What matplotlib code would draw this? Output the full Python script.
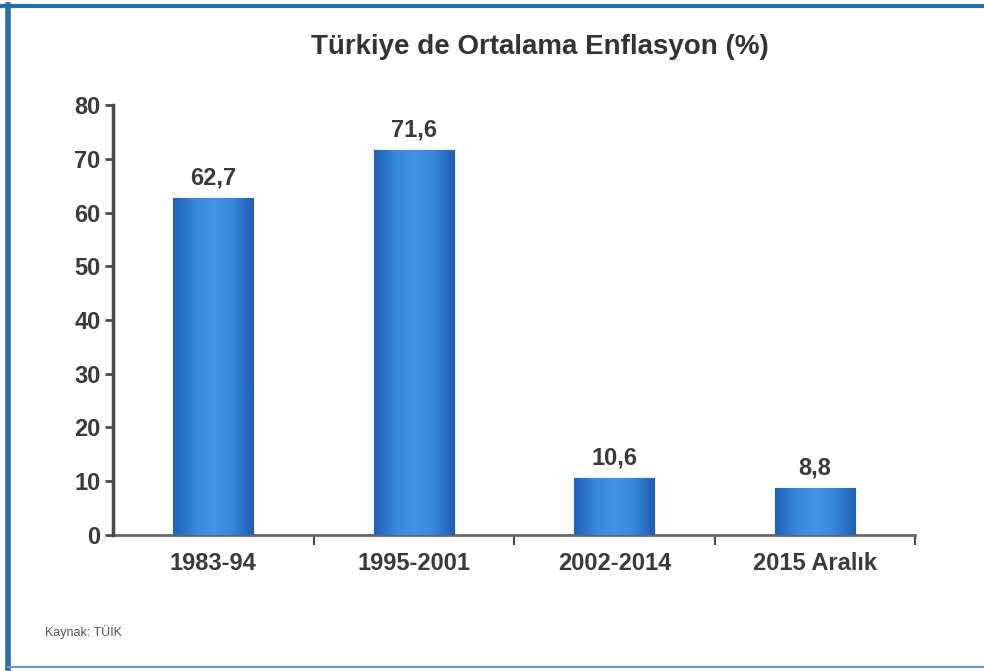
import numpy as np
import matplotlib
matplotlib.use('Agg')
import matplotlib.pyplot as plt
from matplotlib.colors import LinearSegmentedColormap
from matplotlib.lines import Line2D

categories = ['1983-94', '1995-2001', '2002-2014', '2015 Aralık']
values = [62.7, 71.6, 10.6, 8.8]
value_labels = ['62,7', '71,6', '10,6', '8,8']
yticks = [0, 10, 20, 30, 40, 50, 60, 70, 80]

title = 'Türkiye de Ortalama Enflasyon (%)'
source = 'Kaynak: TÜİK'

plt.rcParams['font.family'] = ['Liberation Sans', 'DejaVu Sans']
text_col = '#3a3a3a'
axis_col = '#4a4a4a'

fig = plt.figure(figsize=(9.84, 6.71), dpi=100)
ax = fig.add_axes([0.1148, 0.2027, 0.8152, 0.6408])

x = np.arange(len(categories))
bars = ax.bar(x, values, width=0.4, color='#2f7fd8', edgecolor='#1d5aa8',
              linewidth=0.8, zorder=2)

# horizontal shading across each bar
cmap = LinearSegmentedColormap.from_list(
    'bar', ['#1f62b8', '#3585dd', '#4493ea', '#3585dd', '#1f5fb3'])
grad = np.linspace(0, 1, 64).reshape(1, -1)
for b in bars:
    x0, w, h = b.get_x(), b.get_width(), b.get_height()
    im = ax.imshow(grad, cmap=cmap, aspect='auto', zorder=3,
                   extent=[x0, x0 + w, 0, h])
    im.set_clip_path(b)

for b, lab in zip(bars, value_labels):
    ax.text(b.get_x() + b.get_width() / 2, b.get_height() + 1.6, lab,
            ha='center', va='bottom', fontsize=17, fontweight='bold',
            color=text_col)

ax.set_xlim(-0.5, len(categories) - 0.5)
ax.set_ylim(0, 80)
ax.set_yticks(yticks)
ax.set_yticklabels([str(t) for t in yticks], fontsize=17, fontweight='bold',
                   color=text_col)
ax.set_xticks(x)
ax.set_xticklabels(categories, fontsize=17, fontweight='bold', color=text_col)
ax.tick_params(axis='x', length=0, pad=12)
ax.tick_params(axis='y', length=6, width=2, color=axis_col, pad=3)

# minor ticks at category boundaries
ax.set_xticks(np.arange(0.5, len(categories) - 0.5 + 0.01, 1.0), minor=True)
ax.tick_params(axis='x', which='minor', length=7, width=1.5, color=axis_col,
               direction='out')

for s in ['top', 'right']:
    ax.spines[s].set_visible(False)
ax.spines['left'].set_color(axis_col)
ax.spines['left'].set_linewidth(2.5)
ax.spines['bottom'].set_color('#666666')
ax.spines['bottom'].set_linewidth(2)
ax.spines['left'].set_zorder(4)

fig.text(0.549, 0.930, title, ha='center', va='center', fontsize=20,
         fontweight='bold', color='#333333')
fig.text(0.046, 0.058, source, ha='left', va='center', fontsize=9,
         color='#555555')

# frame around the figure
fig.add_artist(Line2D([0, 1], [0.991, 0.991], color='#2a6ea8', lw=3,
                      transform=fig.transFigure))
fig.add_artist(Line2D([0.008, 0.008], [0.005, 0.993], color='#2a6ea8', lw=4,
                      transform=fig.transFigure))
fig.add_artist(Line2D([0.008, 1], [0.006, 0.006], color='#6a9cc8', lw=1.5,
                      transform=fig.transFigure))

fig.savefig('out.png', dpi=100)
